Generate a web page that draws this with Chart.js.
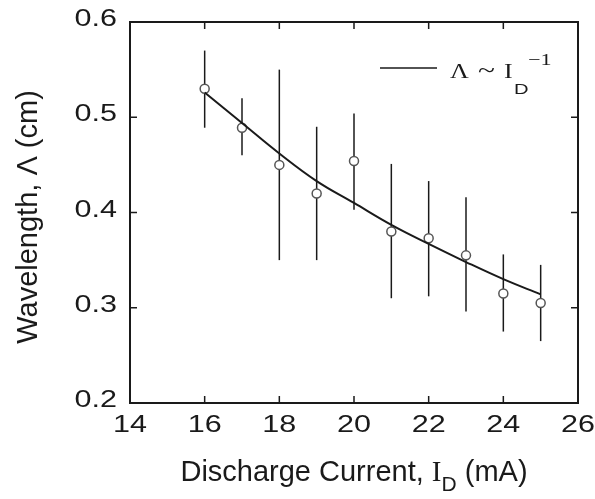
<!DOCTYPE html>
<html>
<head>
<meta charset="utf-8">
<script src="https://cdn.jsdelivr.net/npm/chart.js@4.4.1/dist/chart.umd.min.js"></script>
<style>
  html, body { margin: 0; padding: 0; background: #fff; }
  #wrap { width: 595px; height: 499px; }
</style>
</head>
<body>
<div id="wrap"><canvas id="chartCanvas" width="595" height="499"></canvas></div>
<script>
// measured points (discharge current in mA, wavelength in cm)
const current = [16, 17, 18, 19, 20, 21, 22, 23, 24, 25];
const wavelength = [0.530, 0.489, 0.450, 0.420, 0.454, 0.380, 0.373, 0.355, 0.315, 0.305];
const errHigh = [0.570, 0.520, 0.550, 0.490, 0.504, 0.451, 0.433, 0.416, 0.356, 0.345];
const errLow = [0.489, 0.460, 0.350, 0.350, 0.403, 0.310, 0.312, 0.296, 0.275, 0.265];

// fitted curve
const fitX = [16, 17, 18, 19, 20, 21, 22, 23, 24, 25];
const fitY = [0.526, 0.494, 0.462, 0.433, 0.410, 0.387, 0.367, 0.348, 0.330, 0.314];

const xTicks = [14, 16, 18, 20, 22, 24, 26];
const yTicks = [0.2, 0.3, 0.4, 0.5, 0.6];

const ink = "#1a1a1a";
const sans = "'Liberation Sans', Arial, sans-serif";
const serif = "'Liberation Serif', 'Times New Roman', serif";
const stretch = 1.3; // tick labels and legend look horizontally stretched

function wideText(ctx, txt, x, y, align) {
  ctx.save();
  ctx.translate(x, y);
  ctx.scale(stretch, 1);
  ctx.textAlign = align;
  ctx.fillText(txt, 0, 0);
  ctx.restore();
}

// frame, inward ticks, labels, error bars, axis titles and legend
const extras = {
  id: "extras",
  beforeDatasetsDraw(chart) {
    const { ctx, scales } = chart;
    const xs = scales.x, ys = scales.y;
    ctx.save();
    ctx.strokeStyle = ink;
    ctx.lineWidth = 1.5;
    for (let i = 0; i < current.length; i++) {
      const px = xs.getPixelForValue(current[i]);
      ctx.beginPath();
      ctx.moveTo(px, ys.getPixelForValue(errHigh[i]));
      ctx.lineTo(px, ys.getPixelForValue(errLow[i]));
      ctx.stroke();
    }
    ctx.restore();
  },
  afterDraw(chart) {
    const { ctx, chartArea: a, scales } = chart;
    const xs = scales.x, ys = scales.y;
    ctx.save();
    ctx.strokeStyle = ink;
    ctx.lineWidth = 2;
    ctx.strokeRect(a.left, a.top, a.right - a.left, a.bottom - a.top);

    const tl = 7;
    ctx.lineWidth = 1.5;
    ctx.beginPath();
    xTicks.slice(1, -1).forEach(v => {
      const px = xs.getPixelForValue(v);
      ctx.moveTo(px, a.bottom); ctx.lineTo(px, a.bottom - tl);
      ctx.moveTo(px, a.top); ctx.lineTo(px, a.top + tl);
    });
    yTicks.slice(1, -1).forEach(v => {
      const py = ys.getPixelForValue(v);
      ctx.moveTo(a.left, py); ctx.lineTo(a.left + tl, py);
      ctx.moveTo(a.right, py); ctx.lineTo(a.right - tl, py);
    });
    ctx.stroke();

    ctx.fillStyle = ink;
    ctx.textBaseline = "alphabetic";

    // tick labels
    ctx.font = "23.5px " + sans;
    xTicks.forEach(v => wideText(ctx, String(v), xs.getPixelForValue(v), a.bottom + 29, "center"));
    yTicks.forEach(v => wideText(ctx, v.toFixed(1), a.left - 13, ys.getPixelForValue(v) + 4, "right"));

    // x title: Discharge Current, I_D (mA)
    const t1 = "Discharge Current, ";
    const t2 = " (mA)";
    ctx.font = "29px " + serif;
    const wI = ctx.measureText("I").width;
    ctx.font = "21px " + sans;
    const wD = ctx.measureText("D").width;
    ctx.font = "29px " + sans;
    const w1 = ctx.measureText(t1).width;
    const w2 = ctx.measureText(t2).width;
    let x0 = (a.left + a.right) / 2 - (w1 + wI + wD + w2) / 2;
    const by = 481;
    ctx.textAlign = "left";
    ctx.fillText(t1, x0, by);
    x0 += w1;
    ctx.font = "29px " + serif;
    ctx.fillText("I", x0, by);
    x0 += wI;
    ctx.font = "21px " + sans;
    ctx.fillText("D", x0, by + 10);
    x0 += wD;
    ctx.font = "29px " + sans;
    ctx.fillText(t2, x0, by);

    // y title
    ctx.save();
    ctx.translate(37, 217);
    ctx.rotate(-Math.PI / 2);
    ctx.textAlign = "center";
    ctx.font = "29px " + sans;
    ctx.fillText("Wavelength, \u039B (cm)", 0, 0);
    ctx.restore();

    // legend
    ctx.lineWidth = 1.5;
    ctx.beginPath();
    ctx.moveTo(380, 68); ctx.lineTo(437, 68);
    ctx.stroke();
    ctx.font = "20px " + serif;
    wideText(ctx, "\u039B", 450, 78, "left");
    wideText(ctx, "I", 504, 78, "left");
    ctx.font = "24px " + serif;
    wideText(ctx, "~", 478, 78, "left");
    ctx.font = "15.5px " + sans;
    wideText(ctx, "D", 514, 94, "left");
    ctx.font = "17px " + serif;
    wideText(ctx, "\u22121", 528, 65, "left");
    ctx.restore();
  }
};

const ctx = document.getElementById("chartCanvas").getContext("2d");
new Chart(ctx, {
  type: "scatter",
  data: {
    datasets: [
      {
        label: "fit",
        type: "line",
        data: fitX.map((x, i) => ({ x, y: fitY[i] })),
        borderColor: ink,
        borderWidth: 2,
        pointRadius: 0,
        tension: 0.4,
        fill: false
      },
      {
        label: "data",
        data: current.map((x, i) => ({ x, y: wavelength[i] })),
        pointRadius: 4.5,
        pointBackgroundColor: "#fff",
        pointBorderColor: "#555",
        pointBorderWidth: 1.5
      }
    ]
  },
  options: {
    responsive: false,
    animation: false,
    layout: { padding: { top: 22, right: 17, left: 0, bottom: 0 } },
    plugins: { legend: { display: false }, tooltip: { enabled: false } },
    scales: {
      x: {
        type: "linear",
        min: 14, max: 26,
        afterBuildTicks: s => { s.ticks = xTicks.map(v => ({ value: v })); },
        afterFit: s => { s.height = 96; },
        grid: { display: false, drawTicks: false },
        border: { display: false },
        ticks: { display: false }
      },
      y: {
        type: "linear",
        min: 0.2, max: 0.6,
        afterBuildTicks: s => { s.ticks = yTicks.map(v => ({ value: v })); },
        afterFit: s => { s.width = 130; },
        grid: { display: false, drawTicks: false },
        border: { display: false },
        ticks: { display: false }
      }
    }
  },
  plugins: [extras]
});
</script>
</body>
</html>
